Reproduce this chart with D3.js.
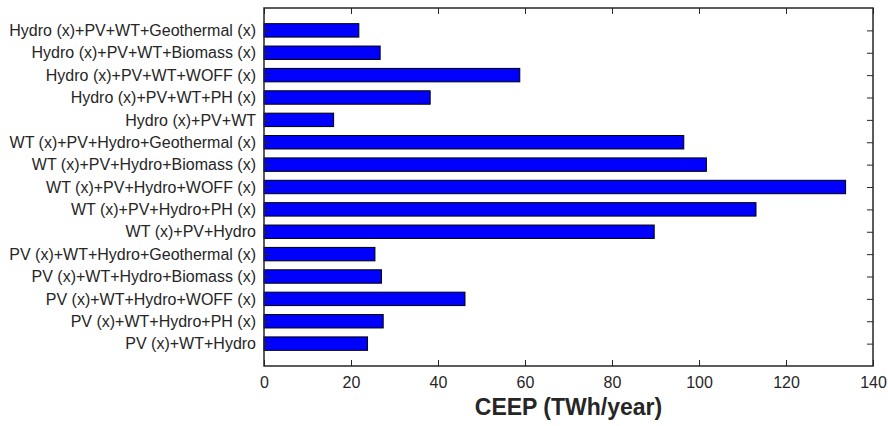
<!DOCTYPE html>
<html>
<head>
<meta charset="utf-8">
<script src="https://cdn.jsdelivr.net/npm/d3@7"></script>
<style>
  body { margin: 0; background: white; }
  text { font-family: Arial, "Liberation Sans", Helvetica, sans-serif; }
</style>
</head>
<body>
<div id="chart"></div>
<script>
/* CONSTANTS AND GLOBALS */
const width = 888;
const height = 426;
const margin = { top: 8, right: 15, bottom: 60, left: 264 };
const bar_color = '#0000ff';
const ink = '#262626';

/* DATA (bottom to top, as drawn) */
const categories = [
  'PV (x)+WT+Hydro',
  'PV (x)+WT+Hydro+PH (x)',
  'PV (x)+WT+Hydro+WOFF (x)',
  'PV (x)+WT+Hydro+Biomass (x)',
  'PV (x)+WT+Hydro+Geothermal (x)',
  'WT (x)+PV+Hydro',
  'WT (x)+PV+Hydro+PH (x)',
  'WT (x)+PV+Hydro+WOFF (x)',
  'WT (x)+PV+Hydro+Biomass (x)',
  'WT (x)+PV+Hydro+Geothermal (x)',
  'Hydro (x)+PV+WT',
  'Hydro (x)+PV+WT+PH (x)',
  'Hydro (x)+PV+WT+WOFF (x)',
  'Hydro (x)+PV+WT+Biomass (x)',
  'Hydro (x)+PV+WT+Geothermal (x)'
];
const ceep = [23.8, 27.4, 46.2, 27.0, 25.5, 89.7, 113.1, 133.7, 101.7, 96.5, 16.0, 38.2, 58.8, 26.7, 21.8];
const xTicks = [0, 20, 40, 60, 80, 100, 120, 140];
const xLabel = 'CEEP (TWh/year)';

const data = categories.map((c, i) => ({ name: c, pos: i + 1, value: ceep[i] }));

/* SCALES */
const x0 = margin.left, x1 = width - margin.right;
const y0 = margin.top, y1 = 366;

const xScale = d3.scaleLinear().domain([0, 140]).range([x0, x1]);
const yScale = d3.scaleLinear().domain([0, categories.length + 1]).range([y1, y0]);
const barH = (yScale(0) - yScale(1)) * 0.6;

const svg = d3.select('#chart').append('svg')
  .attr('width', width)
  .attr('height', height)
  .style('background-color', 'white');

/* BARS */
svg.append('g')
  .selectAll('rect')
  .data(data)
  .join('rect')
  .attr('x', xScale(0))
  .attr('y', d => yScale(d.pos) - barH / 2)
  .attr('width', d => xScale(d.value) - xScale(0))
  .attr('height', barH)
  .attr('fill', bar_color)
  .attr('stroke', '#000')
  .attr('stroke-width', 1);

/* AXES - matlab style box with inward ticks */
const tickLen = 6;

svg.append('g')
  .attr('transform', `translate(0,${y1})`)
  .call(d3.axisBottom(xScale).tickValues(xTicks).tickSizeInner(-tickLen).tickSizeOuter(0).tickPadding(11))
  .call(g => g.select('.domain').remove())
  .call(g => g.selectAll('line').attr('stroke', ink))
  .call(g => g.selectAll('text').attr('fill', ink).attr('font-size', 16));

svg.append('g')
  .attr('transform', `translate(0,${y0})`)
  .call(d3.axisTop(xScale).tickValues(xTicks).tickSizeInner(-tickLen).tickSizeOuter(0).tickFormat(''))
  .call(g => g.select('.domain').remove())
  .call(g => g.selectAll('line').attr('stroke', ink));

svg.append('g')
  .attr('transform', `translate(${x0},0)`)
  .call(d3.axisLeft(yScale).tickValues(data.map(d => d.pos))
    .tickFormat((d, i) => categories[i]).tickSizeInner(-tickLen).tickSizeOuter(0).tickPadding(8))
  .call(g => g.select('.domain').remove())
  .call(g => g.selectAll('line').attr('stroke', ink))
  .call(g => g.selectAll('text').attr('fill', ink).attr('font-size', 16));

svg.append('g')
  .attr('transform', `translate(${x1},0)`)
  .call(d3.axisRight(yScale).tickValues(data.map(d => d.pos)).tickSizeInner(-tickLen).tickSizeOuter(0).tickFormat(''))
  .call(g => g.select('.domain').remove())
  .call(g => g.selectAll('line').attr('stroke', ink));

svg.selectAll('.tick text').attr('font-family', 'Arial, "Liberation Sans", sans-serif');

svg.append('rect')
  .attr('x', x0)
  .attr('y', y0)
  .attr('width', x1 - x0)
  .attr('height', y1 - y0)
  .attr('fill', 'none')
  .attr('stroke', ink)
  .attr('stroke-width', 1.5);

svg.append('text')
  .attr('x', (x0 + x1) / 2)
  .attr('y', 415)
  .attr('text-anchor', 'middle')
  .attr('font-size', 23)
  .attr('font-weight', 'bold')
  .attr('fill', ink)
  .text(xLabel);
</script>
</body>
</html>
